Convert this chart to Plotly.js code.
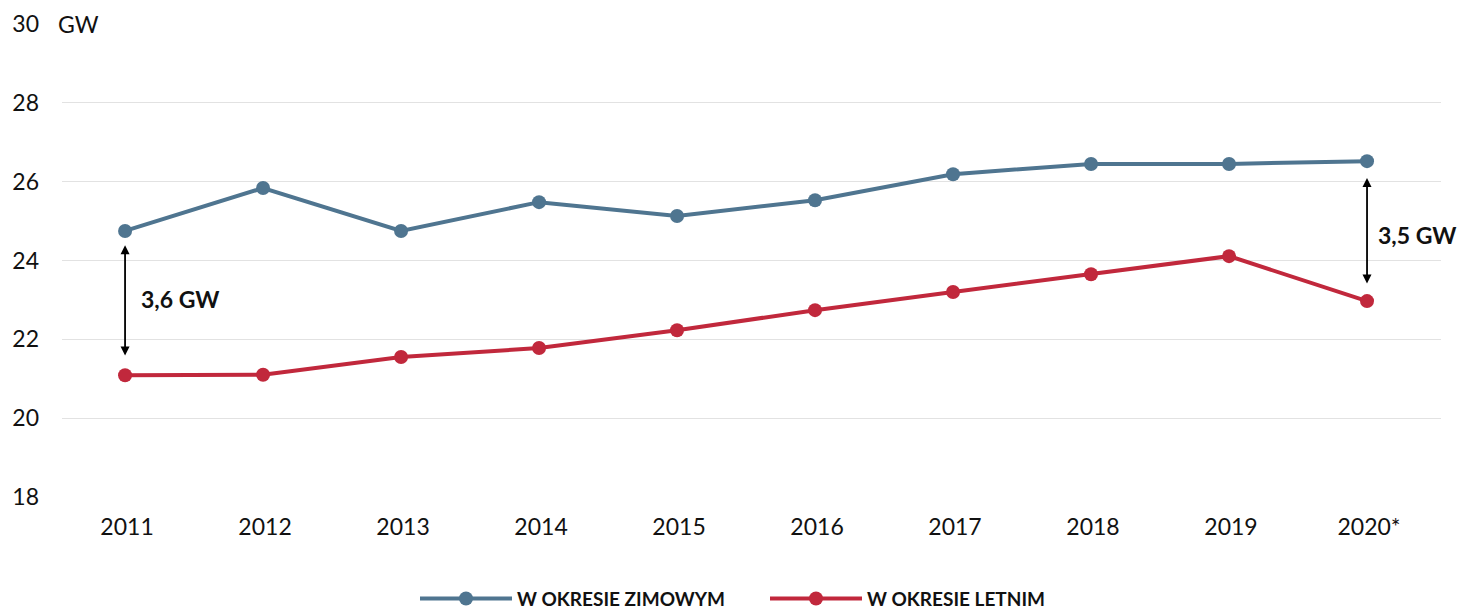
<!DOCTYPE html>
<html>
<head>
<meta charset="utf-8">
<script src="https://cdn.plot.ly/plotly-3.0.1.min.js"></script>
<style>
html,body{margin:0;padding:0;background:#fff;}
#chart{width:1463px;height:609px;}
</style>
</head>
<body>
<div id="chart"></div>
<script>
const years = ['2011','2012','2013','2014','2015','2016','2017','2018','2019','2020*'];
const winter = [24.75, 25.84, 24.75, 25.48, 25.13, 25.53, 26.19, 26.45, 26.45, 26.52];
const summer = [21.09, 21.10, 21.55, 21.78, 22.23, 22.74, 23.20, 23.65, 24.11, 22.97];
const seriesNames = ['W OKRESIE ZIMOWYM', 'W OKRESIE LETNIM'];
const yTicks = [18, 20, 22, 24, 26, 28, 30];
const gapLabels = ['3,6 GW', '3,5 GW'];
const unitLabel = 'GW';

const blue = '#4f7590';
const red = '#c1283c';
const FONT = 'Lato, "Open Sans", sans-serif';

const traces = [
  {x: years, y: winter, name: seriesNames[0], type: 'scatter', mode: 'lines+markers',
   line: {color: blue, width: 4}, marker: {color: blue, size: 14}},
  {x: years, y: summer, name: seriesNames[1], type: 'scatter', mode: 'lines+markers',
   line: {color: red, width: 4}, marker: {color: red, size: 14}}
];

const first = 0, last = years.length - 1;

const arrowAnn = (xi, y0, y1) => ({
  x: xi, y: y0, ax: xi, ay: y1, xref: 'x', yref: 'y', axref: 'x', ayref: 'y',
  text: '', showarrow: true, arrowhead: 2, startarrowhead: 2, arrowside: 'end+start',
  arrowsize: 1, arrowwidth: 1.8, arrowcolor: '#000', standoff: 0, startstandoff: 0
});

const layout = {
  width: 1463, height: 609,
  margin: {l: 62, r: 22, t: 24, b: 112},
  paper_bgcolor: '#fff', plot_bgcolor: '#fff',
  font: {family: FONT, size: 23, color: '#111'},
  showlegend: true,
  legend: {orientation: 'h', xref: 'container', yref: 'container', x: 415/1463, xanchor: 'left',
           y: 0.017, yanchor: 'middle', font: {family: FONT, size: 19, color: '#111', weight: 700},
           itemwidth: 92, entrywidth: 243, traceorder: 'normal'},
  xaxis: {type: 'category', range: [-0.457, 9.536], showgrid: false, zeroline: false,
          showline: false, ticks: '', ticklabelstandoff: 14, ticklabelshift: 2,
          tickfont: {size: 23, color: '#111'}},
  yaxis: {range: [18, 30], tickvals: yTicks, showgrid: true, gridcolor: '#e2e2e2', gridwidth: 1,
          zeroline: false, showline: false, ticks: '', ticklabelstandoff: 22,
          tickfont: {size: 23, color: '#111'}},
  shapes: [
    {type: 'rect', xref: 'paper', yref: 'y', x0: 0, x1: 54/1379, y0: 29.9, y1: 30.1,
     fillcolor: '#fff', line: {width: 0}, layer: 'between'}
  ],
  annotations: [
    {xref: 'paper', yref: 'y', x: -6/1379, y: 30, text: unitLabel, showarrow: false,
     xanchor: 'left', yanchor: 'middle', font: {size: 23, color: '#111'}},
    arrowAnn(first, 24.39, 21.55),
    arrowAnn(last, 26.09, 23.38),
    {xref: 'x', yref: 'y', x: first, y: 23.02, xshift: 14, text: '<b>' + gapLabels[0] + '</b>',
     showarrow: false, xanchor: 'left', yanchor: 'middle', font: {size: 23, color: '#111'}},
    {xref: 'x', yref: 'y', x: last, y: 24.65, xshift: 9, text: '<b>' + gapLabels[1] + '</b>',
     showarrow: false, xanchor: 'left', yanchor: 'middle', font: {size: 23, color: '#111'}}
  ]
};

Plotly.newPlot('chart', traces, layout, {displayModeBar: false, staticPlot: true});
</script>
</body>
</html>
